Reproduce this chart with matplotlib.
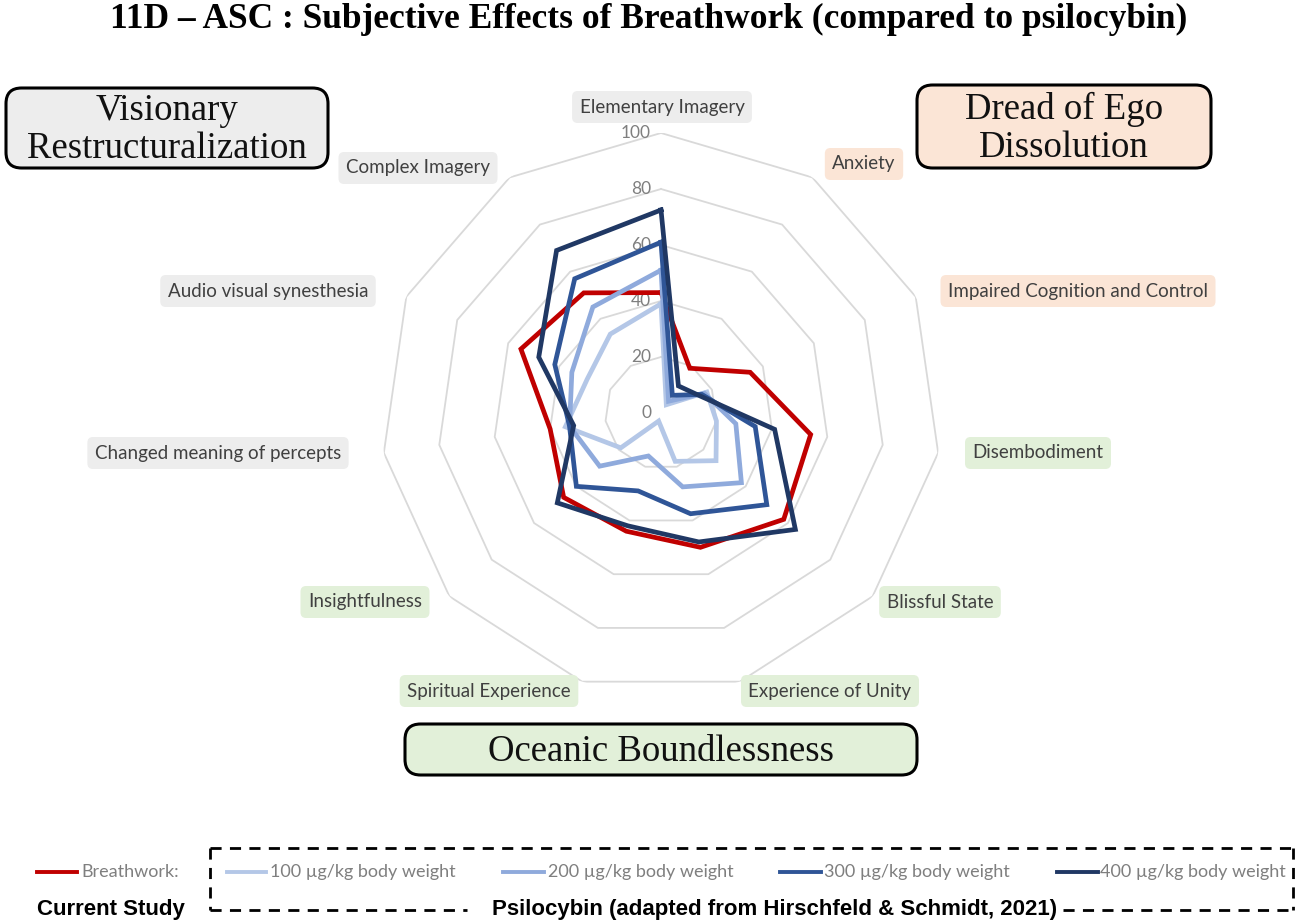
import numpy as np
import matplotlib
matplotlib.use("Agg")
import matplotlib.pyplot as plt
from matplotlib.lines import Line2D
from matplotlib.patches import FancyBboxPatch
import matplotlib.transforms as mtransforms

# ---------------- data ----------------
categories = ["Elementary Imagery", "Anxiety", "Impaired Cognition and Control",
              "Disembodiment", "Blissful State", "Experience of Unity",
              "Spiritual Experience", "Insightfulness", "Changed meaning of percepts",
              "Audio visual synesthesia", "Complex Imagery"]
breathwork = [43, 19, 35, 54, 58, 50, 44, 46, 40, 55, 51]
psi_100 = [39, 3.5, 18, 20, 26, 18, 3, 19, 34.5, 29, 33.5]
psi_200 = [51, 5, 17, 27, 38, 27.5, 16, 29, 33, 35, 45]
psi_300 = [61, 7.5, 16, 34, 50, 37.5, 29, 40, 33, 41.7, 57]
psi_400 = [72.5, 11.5, 15, 41, 63.5, 48, 42, 49, 31.5, 48, 69]
ring_values = [20, 40, 60, 80, 100]
tick_labels = ["0", "20", "40", "60", "80", "100"]
tick_values = [0, 20, 40, 60, 80, 100]
series_names = ["Breathwork:", "100 µg/kg body weight", "200 µg/kg body weight",
                "300 µg/kg body weight", "400 µg/kg body weight"]
series_colors = ["#c00000", "#b4c7e7", "#8faadc", "#2f5597", "#203864"]
label_groups = ["V", "D", "D", "O", "O", "O", "O", "O", "V", "V", "V"]
group_colors = {"V": "#ededed", "D": "#fbe5d6", "O": "#e2f0d9"}

W, H = 1298, 923
fig = plt.figure(figsize=(W / 100, H / 100), dpi=100)

def fx(px):
    return px / W

def fy(py):
    return 1 - py / H

# ---------------- radar ----------------
cx, cy, R = 661, 413, 280
ax = fig.add_axes([fx(cx - R), fy(cy + R), 2 * R / W, 2 * R / H], projection="polar")
ax.set_theta_zero_location("N")
ax.set_theta_direction(-1)
ax.set_ylim(0, 100)
ax.grid(False)
ax.set_xticks([])
ax.set_yticks([])
ax.spines["polar"].set_visible(False)
ax.patch.set_alpha(0)

n = len(categories)
angles = np.linspace(0, 2 * np.pi, n, endpoint=False)
ang_c = np.append(angles, angles[0])

for v in ring_values:
    ax.plot(ang_c, [v] * (n + 1), color="#d9d9d9", lw=1.3, zorder=1)

all_series = [breathwork, psi_100, psi_200, psi_300, psi_400]
for vals, col in zip(all_series, series_colors):
    ax.plot(ang_c, list(vals) + [vals[0]], color=col, lw=3.4, zorder=3,
            solid_joinstyle="miter")

off = mtransforms.offset_copy(ax.transData, fig=fig, x=-10, y=0, units="dots")
for v, t in zip(tick_values, tick_labels):
    ax.text(0, v, t, transform=off, ha="right", va="center", fontsize=12.5,
            color="#7f7f7f", family="Lato", zorder=2)

# category labels (pixel centers)
label_pos = [(662, 107), (864, 164), (1078, 291), (1038, 453), (940, 602),
             (830, 691), (489, 691), (365, 602), (218, 453), (268, 291), (418, 168)]
for name, (px, py), g in zip(categories, label_pos, label_groups):
    fig.text(fx(px), fy(py), name, ha="center", va="center", fontsize=13.5,
             family="Lato", color="#404040",
             bbox=dict(boxstyle="round,pad=0.4,rounding_size=0.3",
                       fc=group_colors[g], ec="none"))

# ---------------- title ----------------
fig.text(fx(649), fy(19), "11D – ASC : Subjective Effects of Breathwork (compared to psilocybin)",
         ha="center", va="center", fontsize=25.5, fontweight="bold",
         family="Liberation Serif", color="#000000")

# ---------------- big group boxes ----------------
big_boxes = [((6, 88, 328, 168), "Visionary\nRestructuralization", "V"),
             ((917, 85, 1211, 168), "Dread of Ego\nDissolution", "D"),
             ((405, 724, 917, 775), "Oceanic Boundlessness", "O")]
for (x0, y0, x1, y1), txt, g in big_boxes:
    p = FancyBboxPatch((fx(x0), fy(y1)), fx(x1 - x0), (y1 - y0) / H,
                       boxstyle="round,pad=0,rounding_size=0.012",
                       transform=fig.transFigure, fc=group_colors[g], ec="black",
                       lw=2.2, mutation_aspect=W / H)
    fig.add_artist(p)
    fig.text(fx((x0 + x1) / 2), fy((y0 + y1) / 2 + 2), txt, ha="center", va="center",
             fontsize=26.5, family="Liberation Serif", color="#111111",
             linespacing=1.12)

# ---------------- legend ----------------
ly = 872
leg_items = [(37, 77, 81), (227, 266, 270), (503, 544, 548), (780, 821, 824), (1057, 1098, 1100)]
for (l0, l1, tx), name, col in zip(leg_items, series_names, series_colors):
    fig.add_artist(Line2D([fx(l0), fx(l1)], [fy(ly), fy(ly)], color=col, lw=2.8,
                          transform=fig.transFigure))
    fig.text(fx(tx), fy(ly), name, ha="left", va="center", fontsize=13,
             family="Lato", color="#7f7f7f")

fig.text(fx(111), fy(910), "Current Study", ha="center", va="center", fontsize=16,
         fontweight="bold", family="Liberation Sans")
fig.text(fx(775), fy(910), "Psilocybin (adapted from Hirschfeld & Schmidt, 2021)",
         ha="center", va="center", fontsize=16, fontweight="bold",
         family="Liberation Sans")

dash = dict(color="black", lw=2, ls=(0, (4, 3)), transform=fig.transFigure)
bx0, bx1, by0, by1 = 210, 1293, 848, 910
fig.add_artist(Line2D([fx(bx0), fx(bx1)], [fy(by0), fy(by0)], **dash))
fig.add_artist(Line2D([fx(bx0), fx(bx0)], [fy(by0), fy(by1)], **dash))
fig.add_artist(Line2D([fx(bx1), fx(bx1)], [fy(by0), fy(by1)], **dash))
fig.add_artist(Line2D([fx(bx0), fx(467)], [fy(by1), fy(by1)], **dash))
fig.add_artist(Line2D([fx(1063), fx(bx1)], [fy(by1), fy(by1)], **dash))

fig.savefig("out.png", dpi=100, facecolor="white")
